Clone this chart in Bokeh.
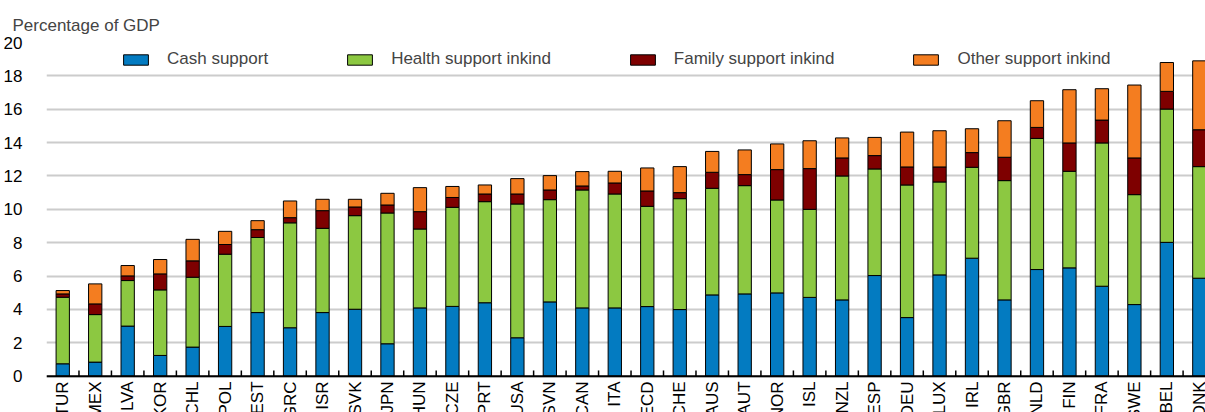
import numpy as np
from bokeh.plotting import figure
from bokeh.models import ColumnDataSource, Range1d, FixedTicker
from bokeh.core.properties import value
from bokeh.embed import file_html
from bokeh.resources import INLINE

countries = ["TUR", "MEX", "LVA", "KOR", "CHL", "POL", "EST", "GRC", "ISR", "SVK",
             "JPN", "HUN", "CZE", "PRT", "USA", "SVN", "CAN", "ITA", "ECD", "CHE",
             "AUS", "AUT", "NOR", "ISL", "NZL", "ESP", "DEU", "LUX", "IRL", "GBR",
             "NLD", "FIN", "FRA", "SWE", "BEL", "DNK"]
cash = [0.74, 0.84, 3.00, 1.24, 1.74, 2.98, 3.81, 2.90, 3.81, 4.01,
        1.94, 4.09, 4.18, 4.40, 2.30, 4.45, 4.09, 4.09, 4.17, 3.99,
        4.87, 4.93, 4.99, 4.72, 4.57, 6.03, 3.51, 6.07, 7.07, 4.57,
        6.39, 6.49, 5.39, 4.29, 8.02, 5.87]
health = [3.99, 2.85, 2.73, 3.93, 4.19, 4.33, 4.50, 6.29, 5.05, 5.61,
          7.84, 4.73, 5.94, 6.06, 8.02, 6.13, 7.07, 6.83, 6.01, 6.65,
          6.39, 6.49, 5.57, 5.28, 7.43, 6.39, 7.95, 5.57, 5.45, 7.15,
          7.86, 5.79, 8.59, 6.59, 7.99, 6.69]
family = [0.20, 0.64, 0.28, 0.96, 0.98, 0.58, 0.47, 0.31, 1.06, 0.52,
          0.48, 1.04, 0.59, 0.46, 0.60, 0.58, 0.24, 0.66, 0.92, 0.36,
          0.96, 0.66, 1.82, 2.44, 1.08, 0.80, 1.08, 0.90, 0.88, 1.40,
          0.66, 1.70, 1.37, 2.20, 1.06, 2.21]
other = [0.20, 1.20, 0.62, 0.86, 1.29, 0.79, 0.54, 1.00, 0.68, 0.46,
         0.70, 1.44, 0.66, 0.54, 0.92, 0.86, 0.86, 0.70, 1.38, 1.56,
         1.25, 1.48, 1.54, 1.67, 1.20, 1.09, 2.09, 2.17, 1.43, 2.19,
         1.60, 3.19, 1.88, 4.37, 1.73, 4.13]
series_names = ["Cash support", "Health support inkind", "Family support inkind", "Other support inkind"]
y_ticks = [0, 2, 4, 6, 8, 10, 12, 14, 16, 18, 20]

colors = ["#037BC1", "#8CC841", "#7E0000", "#F47D20"]
FONT = "Liberation Sans"

n = len(countries)
centers = [i + 0.5 for i in range(n)]
bounds = [i for i in range(1, n + 1)]

src = ColumnDataSource(dict(x=centers, cash=cash, health=health, family=family,
                            other=other, label=countries))

p = figure(width=1205, height=412, output_backend="svg", toolbar_location=None,
           x_range=Range1d(0, 35.69), y_range=Range1d(-2.18, 20),
           min_border_left=46, min_border_right=0, min_border_top=42,
           min_border_bottom=0)

p.title.text = "Percentage of GDP"
p.title.text_font = FONT
p.title.text_font_size = "17px"
p.title.text_font_style = "normal"
p.title.align = "left"
p.title.offset = -34
p.title.standoff = 16

p.outline_line_color = None
p.xaxis.visible = False
p.xgrid.visible = False

ya = p.yaxis[0]
ya.ticker = FixedTicker(ticks=y_ticks)
ya.axis_line_color = None
ya.major_tick_line_color = None
ya.minor_tick_line_color = None
ya.major_label_text_font = FONT
ya.major_label_text_font_size = "17px"
ya.major_label_text_color = "black"
ya.major_label_standoff = 18
p.ygrid.grid_line_color = "#CCCCCC"
p.ygrid.grid_line_width = 2

p.vbar_stack(["cash", "health", "family", "other"], x="x", width=0.41, source=src,
             fill_color=colors, line_color="black", line_width=1,
             legend_label=series_names)

# baseline axis and category ticks
p.segment(x0=[0], y0=[0], x1=[n], y1=[0], line_color="black", line_width=2)
p.segment(x0=bounds, y0=[0] * n, x1=bounds, y1=[0.34] * n, line_color="black", line_width=1.5)

p.text(x="x", y=-0.32, text="label", source=src, angle=np.pi / 2,
       text_align="right", text_baseline="middle", text_font=value(FONT),
       text_font_size="17px", text_color="black")

lg = p.legend[0]
lg.orientation = "horizontal"
lg.location = (74, 343)
lg.padding = 0
lg.margin = 0
lg.spacing = 76
lg.glyph_width = 31
lg.glyph_height = 13
lg.label_standoff = 16
lg.label_text_font = FONT
lg.label_text_font_size = "17px"
lg.background_fill_alpha = 0
lg.border_line_color = None

open("out.html", "w").write(file_html(p, INLINE))
